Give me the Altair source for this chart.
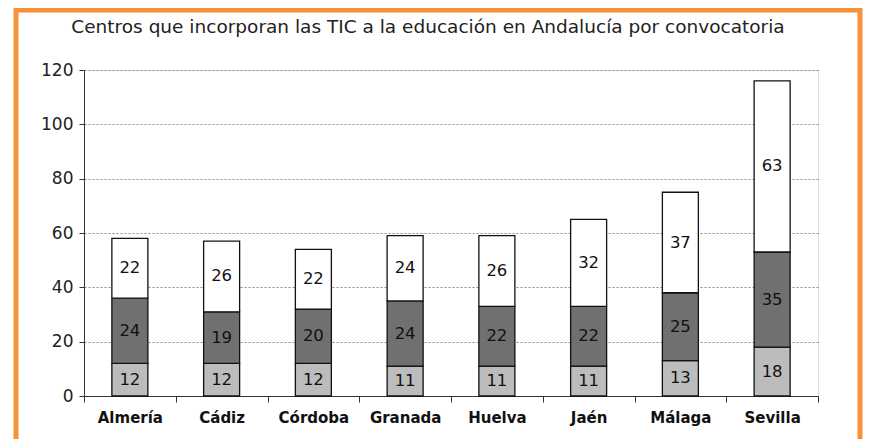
import altair as alt
import pandas as pd

cities = ["Almería", "Cádiz", "Córdoba", "Granada", "Huelva", "Jaén", "Málaga", "Sevilla"]
serie1 = [12, 12, 12, 11, 11, 11, 13, 18]
serie2 = [24, 19, 20, 24, 22, 22, 25, 35]
serie3 = [22, 26, 22, 24, 26, 32, 37, 63]
series_names = ["Convocatoria 1", "Convocatoria 2", "Convocatoria 3"]
colors = ["#bcbcbc", "#707070", "#ffffff"]
y_ticks = [0, 20, 40, 60, 80, 100, 120]
title_text = "Centros que incorporan las TIC a la educación en Andalucía por convocatoria"

rows = []
for i, c in enumerate(cities):
    for k, (name, vals) in enumerate(zip(series_names, [serie1, serie2, serie3])):
        rows.append({"city": c, "serie": name, "order": k, "value": vals[i]})
df = pd.DataFrame(rows)

FONT = "DejaVu Sans"

base = alt.Chart(df).transform_stack(
    stack="value", groupby=["city"], as_=["y0", "y1"], sort=[alt.SortField("order")]
).transform_calculate(mid="(datum.y0 + datum.y1) / 2")

x_enc = alt.X(
    "city:N", sort=cities,
    scale=alt.Scale(type="band", paddingInner=0, paddingOuter=0),
    axis=alt.Axis(title=None, labelAngle=0, tickBand="extent", grid=False,
                  domainColor="#333333", tickColor="#333333", tickSize=6,
                  labelFont=FONT, labelFontSize=15, labelFontWeight="bold",
                  labelColor="#111111", labelPadding=8),
)
y_scale = alt.Scale(domain=[0, 120], nice=False)

bars = base.mark_bar(size=36, stroke="#111111", strokeWidth=1.3).encode(
    x=x_enc,
    y=alt.Y("y1:Q", scale=y_scale,
            axis=alt.Axis(title=None, values=y_ticks, grid=True, gridDash=[2, 2],
                          gridColor="#8a8a8a", gridWidth=1,
                          domainColor="#333333", tickColor="#333333", tickSize=5,
                          labelFont=FONT, labelFontSize=17, labelColor="#222222",
                          labelPadding=6)),
    y2="y0:Q",
    color=alt.Color("serie:N", scale=alt.Scale(domain=series_names, range=colors), legend=None),
)

labels = base.mark_text(font=FONT, fontSize=16.5, color="#111111", baseline="middle").encode(
    x=alt.X("city:N", sort=cities),
    y=alt.Y("mid:Q", scale=y_scale),
    text="value:Q",
)

one = pd.DataFrame({"t": [title_text]})

frame = alt.Chart(one).mark_rect(
    fill="transparent", stroke="#f7923a", strokeWidth=5
).encode(x=alt.value(-68), x2=alt.value(776), y=alt.value(-60), y2=alt.value(420))

title = alt.Chart(one).mark_text(
    font=FONT, fontSize=18.5, color="#222222", align="center", baseline="alphabetic"
).encode(x=alt.value(344), y=alt.value(-37), text="t:N")

chart = alt.layer(bars, labels, frame, title).properties(
    width=734, height=326,
    autosize=alt.AutoSizeParams(type="none"),
    padding={"left": 76, "top": 62, "right": 45, "bottom": 43},
).configure_view(stroke="#c4c4c4", fill="#f9f9f9").configure(background="white")

chart.save("out.html", embed_options={"renderer": "svg", "actions": False})
